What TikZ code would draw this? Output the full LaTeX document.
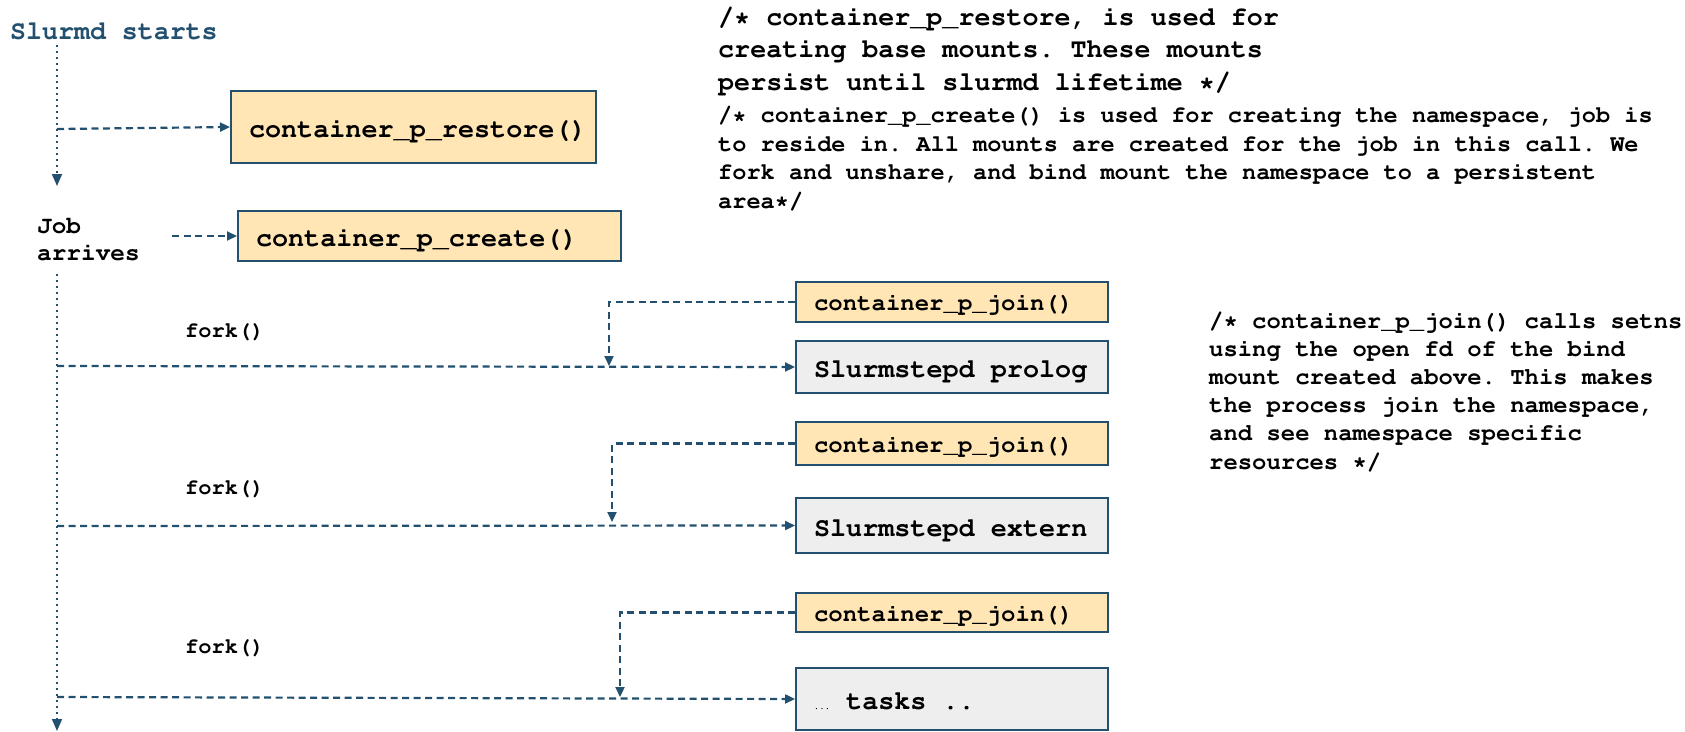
\documentclass[tikz,border=0pt]{standalone}
\usepackage[T1]{fontenc}
\usetikzlibrary{arrows.meta}
\definecolor{lineblue}{HTML}{22506E}
\definecolor{boxyellow}{HTML}{FFE6B4}
\definecolor{boxgrey}{HTML}{EEEEEE}
\newcommand{\fsz}[2]{\fontfamily{pcr}\fontseries{b}\fontsize{#1}{#2}\selectfont\frenchspacing}
\newcommand{\fixsp}{\spaceskip=0pt\xspaceskip=0pt\relax}
\newcommand{\smallell}{\makebox[0.6em][c]{\fontsize{9}{9}\selectfont...}}
\tikzset{
  ybox/.style={draw=lineblue, line width=2pt, fill=boxyellow, rectangle, inner xsep=18pt, inner ysep=0pt, align=left},
  gbox/.style={draw=lineblue, line width=2pt, fill=boxgrey, rectangle, inner xsep=18pt, inner ysep=0pt, align=left},
  bigtxt/.style={font=\fsz{26.8}{30}, text height=27pt, text depth=5.6pt},
  midtxt/.style={font=\fsz{24}{27}, text height=22pt, text depth=5pt},
  dasharrow/.style={draw=lineblue, line width=2.2pt, dash pattern=on 7pt off 4.5pt, -{Triangle[length=10pt,width=9pt]}},
  dotline/.style={draw=lineblue, line width=1.8pt, dash pattern=on 1.8pt off 4.2pt},
  dotarrow/.style={dotline, -{Triangle[length=12pt,width=10pt]}},
  txt/.style={inner sep=0pt, anchor=west, align=left},
}
\begin{document}
\begin{tikzpicture}[x=1pt, y=-1pt]
\useasboundingbox (0,0) rectangle (1685,731);

% title
\node[txt, text=lineblue, font=\fsz{26.6}{30}] (title) at (10,31) {Slurmd starts};
\node[txt, font=\fsz{24.4}{27}] (job) at (37,240) {Job\\arrives};

% boxes
\node[ybox, bigtxt, minimum width=365pt, minimum height=72pt, text width=329pt] (restore) at (413.5,127) {container\_p\_restore()};
\node[ybox, bigtxt, minimum width=383pt, minimum height=50pt, text width=347pt] (create) at (429.5,236) {container\_p\_create()};

\node[ybox, midtxt, minimum width=312pt, minimum height=40pt, text width=276pt] (join1) at (952,302) {container\_p\_join()};
\node[gbox, bigtxt, minimum width=312pt, minimum height=52pt, text width=276pt] (prolog) at (952,367) {\fixsp Slurmstepd prolog};
\node[ybox, midtxt, minimum width=312pt, minimum height=43pt, text width=276pt] (join2) at (952,443.5) {container\_p\_join()};
\node[gbox, bigtxt, minimum width=312pt, minimum height=55pt, text width=276pt] (extern) at (952,525.5) {\fixsp Slurmstepd extern};
\node[ybox, midtxt, minimum width=312pt, minimum height=39pt, text width=276pt] (join3) at (952,612.5) {container\_p\_join()};
\node[gbox, bigtxt, minimum width=312pt, minimum height=62pt, text width=276pt] (tasks) at (952,699) {\fixsp\smallell{} tasks ..};

% fork labels
\node[txt, font=\fsz{22}{26}] (fork1) at (185,332) {fork()};
\node[txt, font=\fsz{22}{26}] (fork2) at (185,489) {fork()};
\node[txt, font=\fsz{22}{26}] (fork3) at (185,648) {fork()};

% comments
\node[txt, font=\fsz{26.7}{32.5}] (c1) at (718,50.5) {/* container\_p\_restore, is used for\\creating base mounts. These mounts\\persist until slurmd lifetime */};
\node[txt, font=\fsz{23.6}{28.5}] (c2) at (718,158.5) {/* container\_p\_create() is used for creating the namespace, job is\\to reside in. All mounts are created for the job in this call. We\\fork and unshare, and bind mount the namespace to a persistent\\area*/};
\node[txt, font=\fsz{23.9}{28.2}] (c3) at (1209,391.5) {/* container\_p\_join() calls setns\\using the open fd of the bind\\mount created above. This makes\\the process join the namespace,\\and see namespace specific\\resources */};

% main timeline
\coordinate (t0) at (57,45);
\coordinate (t1) at (57,186);
\coordinate (t2) at (57,274);
\coordinate (t3) at (57,731);
\draw[dotarrow] (t0) -- (t1);
\draw[dotarrow] (t2) -- (t3);

% calls
\coordinate (r0) at (57,129);
\draw[dasharrow] (r0) -- (restore.west);
\coordinate (j0) at (172,236);
\draw[dasharrow] (j0) -- (create.west);

\coordinate (h1) at (57,366);
\coordinate (h2) at (57,526);
\coordinate (h3) at (57,697);
\draw[dasharrow] (h1) -- (prolog.west);
\draw[dasharrow] (h2) -- (extern.west);
\draw[dasharrow] (h3) -- (tasks.west);

\coordinate (k1) at (609,366);
\coordinate (k2) at (612,522);
\coordinate (k3) at (620,697);
\draw[dasharrow] (join1.west) -| (k1);
\draw[dasharrow] (join2.west) -| (k2);
\draw[dasharrow] (join3.west) -| (k3);
\end{tikzpicture}
\end{document}
